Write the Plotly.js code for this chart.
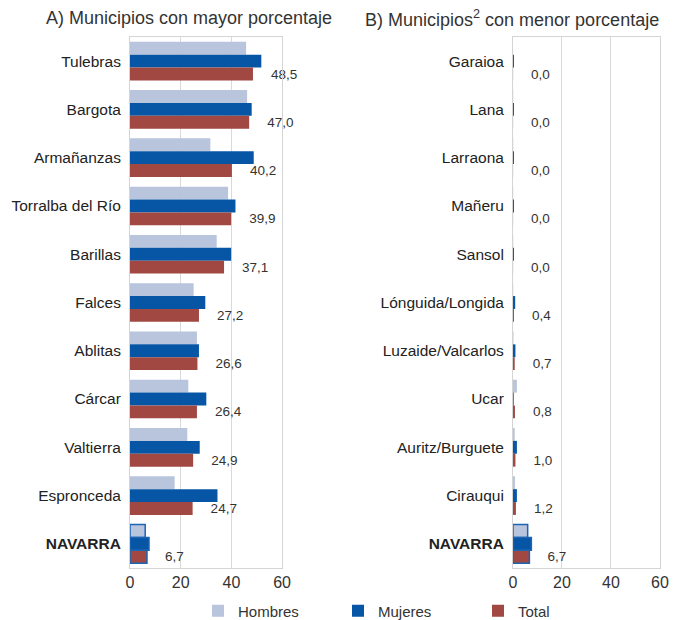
<!DOCTYPE html>
<html>
<head>
<meta charset="utf-8">
<script src="https://cdn.plot.ly/plotly-3.0.1.min.js"></script>
<style>
  body { margin: 0; background: #fff; }
  #chart { width: 673px; height: 620px; }
</style>
</head>
<body>
<div id="chart"></div>
<script>
// A) municipios con mayor porcentaje
const catsA = ['Tulebras', 'Bargota', 'Armañanzas', 'Torralba del Río', 'Barillas', 'Falces',
  'Ablitas', 'Cárcar', 'Valtierra', 'Espronceda', 'NAVARRA'];
const hombresA = [45.8, 46.2, 31.7, 38.7, 34.2, 25.1, 26.4, 23.0, 22.6, 17.6, 6.0];
const mujeresA = [51.8, 48.0, 48.8, 41.6, 39.9, 29.7, 27.2, 30.1, 27.5, 34.5, 7.5];
const totalA = [48.5, 47.0, 40.2, 39.9, 37.1, 27.2, 26.6, 26.4, 24.9, 24.7, 6.7];

// B) municipios con menor porcentaje
const catsB = ['Garaioa', 'Lana', 'Larraona', 'Mañeru', 'Sansol', 'Lónguida/Longida',
  'Luzaide/Valcarlos', 'Ucar', 'Auritz/Burguete', 'Cirauqui', 'NAVARRA'];
const hombresB = [0.0, 0.1, 0.1, 0.1, 0.1, 0.1, 0.2, 1.6, 0.7, 0.8, 6.0];
const mujeresB = [0.4, 0.4, 0.4, 0.4, 0.4, 0.9, 1.0, 0.3, 1.6, 1.6, 7.5];
const totalB = [0.04, 0.04, 0.04, 0.04, 0.04, 0.4, 0.7, 0.8, 1.0, 1.2, 6.7];

const xTicks = [0, 20, 40, 60];

const colors = { Hombres: '#b8c5dd', Mujeres: '#0656a5', Total: '#a14842' };
const outline = '#1c64b4';

const fmt = v => '\u00a0\u00a0\u00a0\u00a0' + v.toFixed(1).replace('.', ',');
const tickText = cats => cats.map(c => c === 'NAVARRA' ? '<b>NAVARRA</b>' : c);
const lineW = cats => cats.map(c => c === 'NAVARRA' ? 1.5 : 0);

function series(name, cats, vals, xa, ya, showLegend, withText) {
  const t = {
    type: 'bar', orientation: 'h', name: name,
    x: vals, y: cats, xaxis: xa, yaxis: ya,
    showlegend: showLegend, legendgroup: name,
    marker: { color: colors[name], line: { color: outline, width: lineW(cats) } },
    hoverinfo: 'x+y+name'
  };
  if (withText) {
    t.text = vals.map(fmt);
    t.textposition = 'outside';
    t.constraintext = 'none';
    t.cliponaxis = false;
    t.textfont = { size: 13.5, color: '#333' };
  } else {
    t.textposition = 'none';
  }
  return t;
}

const data = [
  series('Hombres', catsA, hombresA, 'x', 'y', true, false),
  series('Mujeres', catsA, mujeresA, 'x', 'y', true, false),
  series('Total', catsA, totalA, 'x', 'y', true, true),
  series('Hombres', catsB, hombresB, 'x2', 'y2', false, false),
  series('Mujeres', catsB, mujeresB, 'x2', 'y2', false, false),
  series('Total', catsB, totalB, 'x2', 'y2', false, true)
];

const xAxis = dom => ({
  domain: dom, range: [0, 60], tickvals: xTicks, ticktext: xTicks.map(String),
  showgrid: true, gridcolor: '#d9d9d9', gridwidth: 1, zeroline: false,
  showline: true, mirror: true, linecolor: '#d4d4d4', linewidth: 1,
  ticks: '', tickfont: { size: 16, color: '#333' }, fixedrange: true
});
const yAxis = (cats, anchor) => ({
  anchor: anchor, autorange: 'reversed', type: 'category',
  tickvals: cats, ticktext: tickText(cats), ticks: '',
  showline: true, mirror: true, linecolor: '#d4d4d4', linewidth: 1,
  showgrid: false, zeroline: false, ticklabelstandoff: 5,
  tickfont: { size: 15.5, color: '#222' }, fixedrange: true
});

const layout = {
  width: 673, height: 620,
  margin: { l: 130, r: 13, t: 37, b: 52 },
  paper_bgcolor: '#fff', plot_bgcolor: '#fff',
  font: { family: 'Liberation Sans, Arial, sans-serif', color: '#333' },
  barmode: 'group', bargap: 0.2, bargroupgap: 0,
  xaxis: xAxis([0, 0.287]),
  yaxis: yAxis(catsA, 'x'),
  xaxis2: Object.assign(xAxis([0.7226, 1]), { anchor: 'y2' }),
  yaxis2: yAxis(catsB, 'x2'),
  showlegend: true,
  legend: {
    orientation: 'h', xref: 'container', yref: 'container',
    x: 408 / 673, xanchor: 'center', y: 9 / 620, yanchor: 'middle',
    font: { size: 15, color: '#333' }, entrywidth: 95, entrywidthmode: 'pixels',
    itemwidth: 30, traceorder: 'normal'
  },
  annotations: [
    { xref: 'paper', yref: 'paper', x: (189 - 130) / 530, xanchor: 'center', y: 1, yshift: 19, yanchor: 'middle',
      text: 'A) Municipios con mayor porcentaje', showarrow: false,
      font: { size: 18, color: '#333' } },
    { xref: 'paper', yref: 'paper', x: (512 - 130) / 530, xanchor: 'center', y: 1, yshift: 19, yanchor: 'middle',
      text: 'B) Municipios<sup>2</sup> con menor porcentaje', showarrow: false,
      font: { size: 18, color: '#333' } }
  ]
};

Plotly.newPlot('chart', data, layout, { displayModeBar: false, staticPlot: true });
</script>
</body>
</html>
